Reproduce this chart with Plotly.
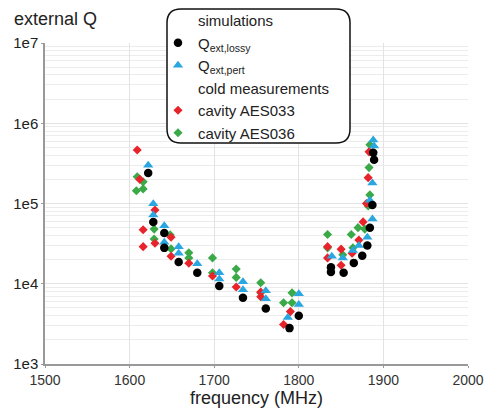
import plotly.graph_objects as go

# ---------------- data ----------------
lossy_f = [1622, 1628, 1641, 1641, 1658, 1680, 1706, 1734, 1761, 1800, 1789,
           1838, 1838, 1853, 1865, 1875, 1881, 1884, 1887, 1889, 1888]
lossy_q = [2.4e5, 5.9e4, 4.3e4, 2.8e4, 1.87e4, 1.37e4, 9.4e3, 6.7e3, 4.9e3, 4.0e3, 2.8e3,
           1.6e4, 1.4e4, 1.37e4, 1.82e4, 2.23e4, 3.0e4, 5.0e4, 9.6e4, 3.5e5, 4.3e5]

pert_f = [1622, 1628, 1628, 1641, 1641, 1658, 1658, 1680, 1706, 1706, 1734, 1734,
          1761, 1761, 1800, 1800, 1787,
          1839, 1852, 1864, 1871, 1881, 1887, 1884, 1887, 1889, 1888]
pert_q = [3.0e5, 9.9e4, 7.2e4, 5.3e4, 3.3e4, 2.9e4, 2.4e4, 1.77e4, 1.37e4, 1.15e4, 1.06e4, 8.4e3,
          8.2e3, 6.5e3, 7.5e3, 5.5e3, 3.8e3,
          2.2e4, 2.1e4, 2.6e4, 3.0e4, 3.8e4, 6.4e4, 1.1e5, 1.8e5, 5.2e5, 6.2e5]

aes033_f = [1609, 1612, 1630, 1616, 1630, 1616, 1649, 1649, 1670, 1698, 1726,
            1755, 1755, 1790, 1782,
            1834, 1834, 1850, 1850, 1863, 1871, 1876, 1880, 1882, 1883]
aes033_q = [4.65e5, 2.0e5, 8.3e4, 4.7e4, 3.2e4, 2.9e4, 3.8e4, 2.2e4, 1.8e4, 1.25e4, 9.1e3,
            7.9e3, 6.9e3, 4.5e3, 3.1e3,
            2.9e4, 2.1e4, 2.7e4, 1.7e4, 2.4e4, 3.5e4, 5.9e4, 1.0e5, 2.1e5, 4.4e5]

aes036_f = [1609, 1616, 1608, 1616, 1629, 1629, 1648, 1649, 1670, 1670, 1698, 1698,
            1726, 1726, 1755, 1755, 1792, 1782, 1792,
            1834, 1834, 1852, 1862, 1864, 1870, 1878, 1882, 1884, 1883, 1884, 1887]
aes036_q = [2.15e5, 1.86e5, 1.44e5, 1.52e5, 4.8e4, 3.6e4, 4.06e4, 2.72e4, 2.43e4, 2.1e4, 2.1e4, 1.37e4,
            1.53e4, 1.2e4, 1.03e4, 7.7e3, 7.7e3, 5.8e3, 5.8e3,
            4.1e4, 2.8e4, 2.3e4, 4.1e4, 2.8e4, 5.0e4, 4.8e4, 9.3e4, 1.28e5, 2.8e5, 5.4e5, 4.3e5]

x_ticks = [1500, 1600, 1700, 1800, 1900, 2000]
y_ticks = [1e3, 1e4, 1e5, 1e6, 1e7]
y_ticktext = ["1e3", "1e4", "1e5", "1e6", "1e7"]

# ---------------- styles ----------------
FONT = "Liberation Sans, Arial, sans-serif"
BLACK = "#000000"
BLUE = "#2aa6e0"
RED = "#e8232b"
GREEN = "#3aa948"

fig = go.Figure()

# header entries (text only)
fig.add_trace(go.Scatter(x=[None], y=[None], mode="markers", name="simulations",
                         marker=dict(color="rgba(0,0,0,0)", size=1), legendrank=1,
                         hoverinfo="skip"))
fig.add_trace(go.Scatter(x=[None], y=[None], mode="markers", name="cold measurements",
                         marker=dict(color="rgba(0,0,0,0)", size=1), legendrank=4,
                         hoverinfo="skip"))

fig.add_trace(go.Scatter(x=aes036_f, y=aes036_q, mode="markers", name="cavity AES036",
                         marker=dict(symbol="diamond", color=GREEN, size=7), legendrank=6))
fig.add_trace(go.Scatter(x=aes033_f, y=aes033_q, mode="markers", name="cavity AES033",
                         marker=dict(symbol="diamond", color=RED, size=7), legendrank=5))
fig.add_trace(go.Scatter(x=pert_f, y=pert_q, mode="markers", name="Q<sub>ext,pert</sub>",
                         marker=dict(symbol="triangle-up", color=BLUE, size=9), legendrank=3))
fig.add_trace(go.Scatter(x=lossy_f, y=lossy_q, mode="markers", name="Q<sub>ext,lossy</sub>",
                         marker=dict(symbol="circle", color=BLACK, size=8.5), legendrank=2))

# minor gridline positions for the log axis
minor_vals = [m * 10 ** e for e in range(3, 7) for m in range(2, 10)]

# page has an 8px body margin; work in page pixels and convert
OFF = 8
FW, FH = 493 - OFF, 416 - OFF
L, R, T, B = 45 - OFF, 468 - OFF, 43 - OFF, 364 - OFF   # plot area in figure px
W, H = R - L, B - T
def px(x):
    return (x - OFF - L) / W
def py(y):
    return (B - (y - OFF)) / H
x0, x1, yt, yb = px(167), px(350), py(9), py(143)
rx, ry = 14 / W, 14 / H
path = (f"M {x0+rx},{yt} L {x1-rx},{yt} Q {x1},{yt} {x1},{yt-ry} "
        f"L {x1},{yb+ry} Q {x1},{yb} {x1-rx},{yb} L {x0+rx},{yb} "
        f"Q {x0},{yb} {x0},{yb+ry} L {x0},{yt-ry} Q {x0},{yt} {x0+rx},{yt} Z")

fig.update_layout(
    width=FW, height=FH,
    margin=dict(l=L, r=FW - R, t=T, b=FH - B, autoexpand=False),
    paper_bgcolor="white", plot_bgcolor="white",
    font=dict(family=FONT, color="#222", size=14),
    showlegend=True,
    legend=dict(x=px(158), y=py(4), xanchor="left", yanchor="top",
                bgcolor="rgba(0,0,0,0)", borderwidth=0,
                font=dict(family=FONT, size=15, color="#222"),
                tracegroupgap=0, traceorder="normal"),
    shapes=[dict(type="path", path=path, xref="paper", yref="paper",
                 line=dict(color="#111", width=1.5), fillcolor="white", layer="above")],
    annotations=[dict(text="external Q", x=px(12), y=py(19), xref="paper", yref="paper",
                      xanchor="left", yanchor="middle", showarrow=False,
                      font=dict(family=FONT, size=18, color="#222"))],
)

fig.update_xaxes(range=[1500, 2000], tickvals=x_ticks, showline=True, linecolor="#999",
                 linewidth=1.5, ticks="outside", ticklen=2, tickcolor="#999",
                 showgrid=True, gridcolor="#e3e3e3", zeroline=False,
                 tickfont=dict(family=FONT, size=14, color="#333"),
                 title=dict(text="frequency (MHz)", standoff=2,
                            font=dict(family=FONT, size=18, color="#222")))
fig.update_yaxes(type="log", range=[3, 7], tickvals=y_ticks, ticktext=y_ticktext,
                 showline=True, linecolor="#999", linewidth=1.5, ticks="outside",
                 ticklen=2, tickcolor="#999", showgrid=True, gridcolor="#e3e3e3",
                 zeroline=False, tickfont=dict(family=FONT, size=15, color="#222"),
                 minor=dict(tickvals=minor_vals, showgrid=True, gridcolor="#ececec",
                            ticks=""))

fig.write_html("out.html")
